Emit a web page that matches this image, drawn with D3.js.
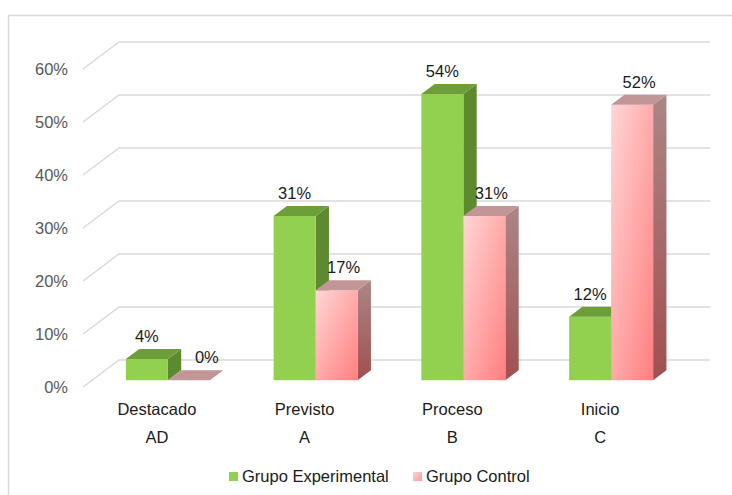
<!DOCTYPE html>
<html>
<head>
<meta charset="utf-8">
<script src="https://cdn.jsdelivr.net/npm/d3@7"></script>
<style>
  body { margin: 0; background: #fff; }
  svg { font-family: "Liberation Sans", Arial, sans-serif; }
</style>
</head>
<body>
<div id="chart"></div>
<script>
// data
const categories = ["Destacado", "Previsto", "Proceso", "Inicio"];
const codes = ["AD", "A", "B", "C"];
const seriesNames = ["Grupo Experimental", "Grupo Control"];
const experimental = [0.04, 0.31, 0.54, 0.12];
const control = [0, 0.17, 0.31, 0.52];
const yTicks = [0, 0.1, 0.2, 0.3, 0.4, 0.5, 0.6];

// chart size
const width = 732;
const height = 495;
const front = { left: 83, right: 674, base: 387 };
const depth = { dx: 36, dy: -27 };   // offset of back wall
const barZ = [0.25, 0.62];           // bar front / back depth
const fontSize = 16.5;

const svg = d3.select("#chart")
  .append("svg")
  .attr("width", width)
  .attr("height", height);

// outer border
svg.append("rect")
  .attr("x", 8.5).attr("y", 15.5)
  .attr("width", 740).attr("height", 500)
  .attr("fill", "none")
  .attr("stroke", "#d9d9d9")
  .attr("stroke-width", 1.5);

const x = d3.scaleBand()
  .domain(categories)
  .range([front.left, front.right]);

const y = d3.scaleLinear()
  .domain([0, 0.6])
  .range([front.base, front.base - 318]);

// project a point at depth z (0 = front, 1 = back wall)
const px = (xv, z) => xv + depth.dx * z;
const py = (yv, z) => yv + depth.dy * z;

// gradients
const defs = svg.append("defs");
const pinkFront = defs.append("linearGradient")
  .attr("id", "pinkFront").attr("x1", 0).attr("y1", 0).attr("x2", 1).attr("y2", 1);
pinkFront.append("stop").attr("offset", "0%").attr("stop-color", "#ffd6d6");
pinkFront.append("stop").attr("offset", "100%").attr("stop-color", "#ff7f7f");
const pinkSide = defs.append("linearGradient")
  .attr("id", "pinkSide").attr("x1", 0).attr("y1", 0).attr("x2", 0).attr("y2", 1);
pinkSide.append("stop").attr("offset", "0%").attr("stop-color", "#ab8686");
pinkSide.append("stop").attr("offset", "100%").attr("stop-color", "#a24f4f");
const pinkLegend = defs.append("linearGradient")
  .attr("id", "pinkLegend").attr("x1", 0).attr("y1", 0).attr("x2", 1).attr("y2", 1);
pinkLegend.append("stop").attr("offset", "0%").attr("stop-color", "#ffd6d6");
pinkLegend.append("stop").attr("offset", "100%").attr("stop-color", "#ff9a9a");

// gridlines (back wall + left wall)
const grid = svg.append("g")
  .attr("stroke", "#d9d9d9")
  .attr("stroke-width", 1.5)
  .attr("fill", "none");
grid.selectAll("path")
  .data(yTicks)
  .join("path")
  .attr("d", d => `M${front.left},${y(d)} L${px(front.left, 1)},${py(y(d), 1)} L${px(front.right, 1)},${py(y(d), 1)}`);

// y-axis labels
svg.append("g")
  .selectAll("text")
  .data(yTicks)
  .join("text")
  .attr("x", 68)
  .attr("y", d => y(d))
  .attr("dy", "0.35em")
  .attr("text-anchor", "end")
  .attr("fill", "#595959")
  .attr("font-size", fontSize)
  .text(d3.format(".0%"));

// category labels
const catG = svg.append("g").attr("fill", "#1a1a1a").attr("font-size", fontSize).attr("text-anchor", "middle");
catG.selectAll(".cat")
  .data(categories)
  .join("text")
  .attr("class", "cat")
  .attr("x", d => x(d) + x.bandwidth() / 2)
  .attr("y", 409).attr("dy", "0.35em")
  .text(d => d);
catG.selectAll(".code")
  .data(codes)
  .join("text")
  .attr("class", "code")
  .attr("x", (d, i) => x(categories[i]) + x.bandwidth() / 2)
  .attr("y", 437).attr("dy", "0.35em")
  .text(d => d);

// bars
const barW = 42;
const barShift = 2;
const labelDx = [0, 7];   // label offset from front face centre, per series
const styles = [
  { front: "#92d050", top: "#6e9e3a", side: "#5e8a2f" },
  { front: "url(#pinkFront)", top: "#c29696", side: "url(#pinkSide)" }
];

const bars = [];
categories.forEach((c, i) => {
  [experimental[i], control[i]].forEach((v, s) => {
    bars.push({ cat: c, s, v });
  });
});

const barG = svg.append("g");
bars.forEach(d => {
  const x0 = x(d.cat) + x.bandwidth() / 2 - barW + d.s * barW + barShift;
  const x1 = x0 + barW;
  const z0 = barZ[0], z1 = barZ[1];
  const yb = y(0), yt = y(d.v);
  const st = styles[d.s];
  const g = barG.append("g");
  // side
  g.append("path")
    .attr("d", `M${px(x1, z0)},${py(yt, z0)} L${px(x1, z1)},${py(yt, z1)} L${px(x1, z1)},${py(yb, z1)} L${px(x1, z0)},${py(yb, z0)} Z`)
    .attr("fill", st.side);
  // front
  g.append("path")
    .attr("d", `M${px(x0, z0)},${py(yt, z0)} L${px(x1, z0)},${py(yt, z0)} L${px(x1, z0)},${py(yb, z0)} L${px(x0, z0)},${py(yb, z0)} Z`)
    .attr("fill", st.front);
  // top
  g.append("path")
    .attr("d", `M${px(x0, z0)},${py(yt, z0)} L${px(x0, z1)},${py(yt, z1)} L${px(x1, z1)},${py(yt, z1)} L${px(x1, z0)},${py(yt, z0)} Z`)
    .attr("fill", st.top);
  // value label (zero values pushed right, off the flat bar)
  const dx = labelDx[d.s] + (d.v === 0 ? 11 : 0);
  g.append("text")
    .attr("x", px((x0 + x1) / 2, z0) + dx)
    .attr("y", py(yt, z1) - 7)
    .attr("text-anchor", "middle")
    .attr("fill", "#1a1a1a")
    .attr("font-size", fontSize)
    .text(d3.format(".0%")(d.v));
});

// legend
const legend = svg.append("g").attr("font-size", fontSize).attr("fill", "#1a1a1a");
const legendX = [229, 413];
seriesNames.forEach((name, i) => {
  legend.append("rect")
    .attr("x", legendX[i]).attr("y", 472)
    .attr("width", 9).attr("height", 9)
    .attr("fill", i === 0 ? "#92d050" : "url(#pinkLegend)");
  legend.append("text")
    .attr("x", legendX[i] + 13).attr("y", 476)
    .attr("dy", "0.35em")
    .text(name);
});
</script>
</body>
</html>
